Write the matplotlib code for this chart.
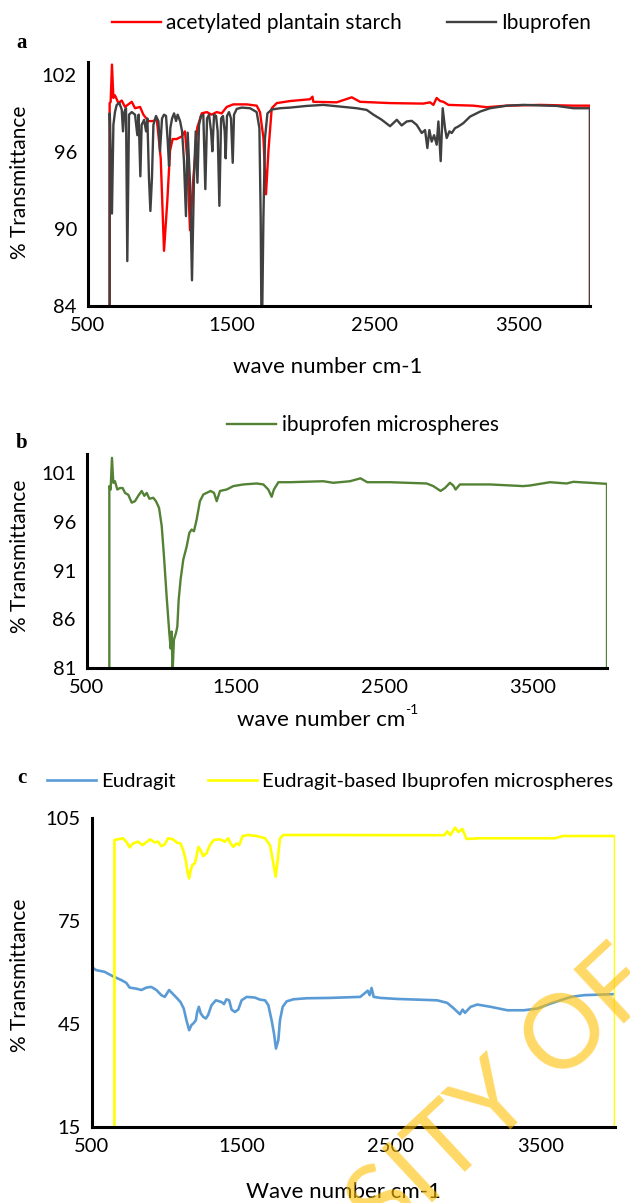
import matplotlib
matplotlib.use("Agg")
import matplotlib.pyplot as plt

plt.rcParams['font.family'] = ['Lato', 'DejaVu Sans']

# ---- panel a : acetylated plantain starch / Ibuprofen ----
starch_x = [650, 651, 658, 667, 677, 688, 712, 735, 758, 781, 805, 828, 863, 886, 921, 956,
            979, 991, 1007, 1030, 1053, 1072, 1090, 1118, 1153, 1176, 1193, 1211, 1235, 1262,
            1293, 1328, 1362, 1397, 1432, 1467, 1513, 1606, 1676, 1699, 1723, 1741, 1758, 1781,
            1816, 1909, 2048, 2065, 2071, 2234, 2339, 2397, 2606, 2838, 2885, 2908, 2931, 2955,
            2978, 3013, 3187, 3280, 3420, 3652, 3884, 4000, 4000]
starch_y = [0, 99.8, 99.9, 102.8, 100.2, 100.4, 99.8, 100.0, 99.5, 99.7, 99.9, 99.4, 99.5, 98.9,
            98.4, 98.4, 98.6, 97.3, 95.5, 88.3, 92.2, 96.1, 97.0, 97.0, 97.2, 97.6, 95.3, 89.9,
            94.0, 97.9, 99.0, 99.1, 98.9, 99.1, 99.0, 99.5, 99.7, 99.7, 99.6, 99.1, 97.1, 92.7,
            96.1, 99.4, 99.8, 99.96, 100.1, 100.3, 99.9, 99.86, 100.25, 99.9, 99.8, 99.76, 99.86,
            99.66, 100.2, 99.96, 99.9, 99.66, 99.6, 99.48, 99.6, 99.66, 99.6, 99.6, 0]

ibu_x = [650, 651, 653, 667, 677, 688, 700, 719, 735, 744, 753, 765, 774, 786, 805, 828, 844,
         853, 865, 874, 891, 905, 914, 925, 935, 946, 956, 974, 991, 1002, 1016, 1030, 1044,
         1056, 1065, 1074, 1086, 1100, 1114, 1125, 1142, 1156, 1169, 1183, 1195, 1211, 1225,
         1239, 1251, 1263, 1274, 1288, 1304, 1318, 1330, 1344, 1358, 1367, 1379, 1393, 1404,
         1416, 1428, 1441, 1453, 1460, 1469, 1483, 1497, 1509, 1518, 1537, 1572, 1630, 1676,
         1695, 1704, 1711, 1723, 1734, 1751, 1781, 1839, 1909, 2025, 2141, 2257, 2373, 2443,
         2490, 2548, 2606, 2653, 2687, 2722, 2757, 2792, 2827, 2850, 2866, 2880, 2896, 2913,
         2931, 2943, 2959, 2973, 2989, 3001, 3020, 3036, 3059, 3082, 3117, 3164, 3234, 3303,
         3420, 3536, 3768, 3885, 4000, 4000]
ibu_y = [0, 99.0, 98.6, 91.2, 98.1, 99.1, 99.66, 99.8, 99.3, 97.6, 99.1, 99.4, 87.5, 98.9, 99.1,
         98.9, 97.3, 98.9, 94.1, 98.1, 98.5, 97.6, 98.6, 94.0, 91.4, 94.0, 98.1, 98.8, 98.4,
         96.05, 98.6, 98.9, 98.8, 96.8, 94.9, 97.86, 98.6, 99.0, 98.4, 98.9, 98.4, 97.6, 95.3,
         91.0, 97.5, 93.7, 86.0, 94.0, 97.6, 93.6, 98.1, 98.8, 98.9, 93.1, 98.6, 98.9, 97.6,
         96.05, 98.9, 98.8, 97.6, 91.8, 98.6, 98.8, 97.6, 95.5, 98.8, 99.1, 98.6, 95.15, 98.9,
         99.35, 99.45, 99.4, 99.1, 97.86, 90.9, 80.0, 90.9, 97.08, 99.0, 99.3, 99.4, 99.45,
         99.58, 99.66, 99.53, 99.4, 99.27, 98.9, 98.5, 98.0, 98.5, 98.06, 98.37, 98.42, 98.1,
         97.47, 97.7, 96.3, 97.7, 96.8, 97.3, 96.56, 98.37, 95.28, 99.4, 97.85, 97.08, 97.6,
         97.47, 97.85, 97.98, 98.24, 98.75, 99.14, 99.4, 99.6, 99.66, 99.58, 99.4, 99.4, 0]

# ---- panel b : ibuprofen microspheres ----
micro_x = [650, 650.3, 659, 668, 677, 688, 704, 722, 740, 756, 778, 801, 823, 845, 868, 886, 902,
           920, 946, 964, 985, 1003, 1018, 1036, 1054, 1063, 1070, 1076, 1085, 1099, 1108, 1117,
           1130, 1148, 1171, 1189, 1204, 1220, 1238, 1260, 1283, 1305, 1332, 1355, 1373, 1395,
           1440, 1485, 1552, 1642, 1687, 1720, 1743, 1758, 1788, 1866, 2090, 2158, 2270, 2341,
           2386, 2539, 2786, 2831, 2880, 2909, 2943, 2965, 2981, 3010, 3212, 3436, 3481, 3616,
           3728, 3773, 3885, 4000, 4000]
micro_y = [0, 99.7, 99.35, 102.6, 100.04, 100.2, 99.35, 99.5, 99.5, 99.0, 98.8, 98.0, 98.15, 98.7,
           99.2, 98.7, 99.0, 98.4, 98.5, 98.15, 97.46, 95.57, 92.5, 88.35, 84.6, 83.0, 84.75,
           80.5, 83.9, 84.6, 85.26, 88.0, 90.1, 92.14, 93.5, 94.9, 95.23, 95.06, 96.26, 98.15,
           98.84, 99.0, 99.2, 99.0, 98.15, 99.2, 99.35, 99.7, 99.87, 99.97, 99.87, 99.35, 98.6,
           99.35, 100.1, 100.1, 100.2, 100.04, 100.2, 100.5, 100.1, 100.1, 99.97, 99.7, 99.2,
           99.5, 100.04, 99.76, 99.35, 99.87, 99.87, 99.7, 99.76, 100.1, 99.97, 100.14, 100.04,
           99.93, 0]

# ---- panel c : Eudragit / Eudragit-based Ibuprofen microspheres ----
eud_x = [500, 528, 584, 640, 696, 729, 752, 796, 830, 864, 897, 931, 964, 987, 1016, 1038, 1065,
         1092, 1114, 1132, 1150, 1165, 1181, 1195, 1204, 1215, 1228, 1244, 1262, 1277, 1300,
         1329, 1367, 1383, 1400, 1418, 1434, 1456, 1479, 1501, 1535, 1590, 1624, 1658, 1680,
         1702, 1718, 1731, 1747, 1758, 1776, 1803, 1848, 1937, 2094, 2295, 2329, 2345, 2358,
         2371, 2385, 2430, 2541, 2676, 2810, 2877, 2922, 2962, 2980, 2996, 3034, 3078, 3168,
         3280, 3391, 3481, 3570, 3705, 3794, 3928, 4000]
eud_y = [61.5, 60.7, 60.2, 58.9, 57.8, 57.0, 55.6, 55.3, 54.9, 55.6, 55.8, 54.9, 53.4, 52.9, 54.9,
         53.9, 52.7, 51.4, 49.5, 46.1, 43.2, 44.65, 45.3, 46.1, 48.5, 50.0, 48.05, 47.1, 46.6,
         47.6, 50.5, 51.9, 51.4, 50.8, 52.2, 51.9, 49.2, 48.5, 49.2, 51.9, 52.9, 52.7, 52.1,
         51.9, 50.5, 46.1, 42.2, 37.85, 40.3, 46.1, 50.0, 51.6, 52.2, 52.5, 52.6, 52.9, 54.1,
         54.7, 53.4, 55.5, 52.9, 52.6, 52.3, 52.1, 51.9, 51.16, 49.5, 47.85, 49.2, 48.25, 50.0,
         50.67, 50.0, 49.0, 49.0, 49.5, 50.97, 52.9, 53.4, 53.6, 53.7]

eudibu_x = [650, 650.1, 673, 707, 729, 752, 774, 808, 837, 859, 890, 919, 942, 964, 987, 1009,
            1042, 1069, 1092, 1110, 1127, 1139, 1150, 1161, 1172, 1188, 1199, 1212, 1226, 1244,
            1266, 1289, 1315, 1356, 1389, 1412, 1427, 1445, 1467, 1485, 1508, 1546, 1602, 1658,
            1691, 1714, 1729, 1743, 1758, 1781, 2094, 2500, 2858, 2877, 2898, 2930, 2952, 2979,
            3006, 3100, 3598, 3651, 4000, 4000]
eudibu_y = [0, 98.6, 98.8, 99.1, 98.1, 96.45, 97.6, 98.1, 97.1, 97.8, 98.8, 97.9, 98.1, 96.8,
            97.3, 99.1, 98.8, 97.8, 97.6, 95.7, 92.8, 89.4, 87.4, 89.8, 91.3, 91.8, 93.7, 96.6,
            95.7, 93.9, 94.7, 97.1, 98.6, 98.8, 98.1, 99.1, 97.6, 96.6, 97.6, 97.1, 99.75,
            100.05, 99.75, 99.1, 97.1, 91.8, 87.9, 92.8, 99.1, 100.05, 100.05, 100.0, 100.0,
            101.1, 100.0, 102.2, 100.9, 101.8, 98.9, 99.1, 99.1, 99.75, 99.75, 0]

xticks = [500, 1500, 2500, 3500]

W, H = 630, 1203
fig = plt.figure(figsize=(W / 100, H / 100), dpi=100)


def add_ax(l, r, t, b):
    return fig.add_axes([l / W, 1 - b / H, (r - l) / W, (b - t) / H])


def style(ax, ylim, yticks):
    ax.set_xlim(500, 4000)
    ax.set_ylim(*ylim)
    ax.set_xticks(xticks)
    ax.set_yticks(yticks)
    for s in ['top', 'right']:
        ax.spines[s].set_visible(False)
    for s in ['left', 'bottom']:
        ax.spines[s].set_linewidth(2.2)
    ax.tick_params(length=0, labelsize=14.5, pad=8)


def ftext(x, y, s, **kw):
    kw.setdefault('ha', 'center')
    fig.text(x / W, 1 - y / H, s, va='center', **kw)


def add_legend(ax, lines, names, x, y, spacing, size=15):
    ax.legend(lines, names, ncol=len(lines), frameon=False, loc='center left',
              bbox_to_anchor=(x / W, 1 - y / H), bbox_transform=fig.transFigure,
              fontsize=size, handlelength=2.35 * 15 / size, handletextpad=0.25,
              columnspacing=spacing, borderaxespad=0)


panel_font = dict(family='Liberation Serif', weight='bold', fontsize=15)

# panel a
ax1 = add_ax(88, 590, 62, 306)
l1, = ax1.plot(starch_x, starch_y, color='#FF0000', lw=1.7)
l2, = ax1.plot(ibu_x, ibu_y, color='#404040', lw=1.7)
style(ax1, (84, 103), [84, 90, 96, 102])
add_legend(ax1, [l1, l2], ['acetylated plantain starch', 'Ibuprofen'], 104, 23, 2.15)
ftext(22, 43, 'a', **panel_font)
ftext(20, 182, '% Transmittance', rotation=90, fontsize=15)
ftext(328, 367, 'wave number cm-1', fontsize=16)

# panel b
ax2 = add_ax(87, 607, 454, 668)
l3, = ax2.plot(micro_x, micro_y, color='#548235', lw=1.7)
style(ax2, (81, 103), [81, 86, 91, 96, 101])
add_legend(ax2, [l3], ['ibuprofen microspheres'], 219, 425, 2.0)
ftext(22, 443, 'b', **panel_font)
ftext(20, 556, '% Transmittance', rotation=90, fontsize=15)
ftext(405, 720, 'wave number cm', ha='right', fontsize=16)
ftext(405, 710, '-1', ha='left', fontsize=10)

# panel c
ax3 = add_ax(92, 615, 818, 1127)
l4, = ax3.plot(eud_x, eud_y, color='#5B9BD5', lw=1.9)
l5, = ax3.plot(eudibu_x, eudibu_y, color='#FFFF00', lw=1.9)
style(ax3, (15, 105), [15, 45, 75, 105])
add_legend(ax3, [l4, l5], ['Eudragit', 'Eudragit-based Ibuprofen microspheres'], 39, 781,
           1.6, size=14.6)
ftext(22, 778, 'c', **panel_font)
ftext(20, 975, '% Transmittance', rotation=90, fontsize=15)
ftext(343, 1192, 'Wave number cm-1', fontsize=16)

# watermark
fig.text(522 / W, 1 - 1078 / H, 'UNIVERSITY OF NIGERIA', rotation=43, fontsize=74,
         color='#FFC000', alpha=0.6, ha='center', va='center', rotation_mode='anchor',
         zorder=10)

fig.savefig('out.png', dpi=100)
